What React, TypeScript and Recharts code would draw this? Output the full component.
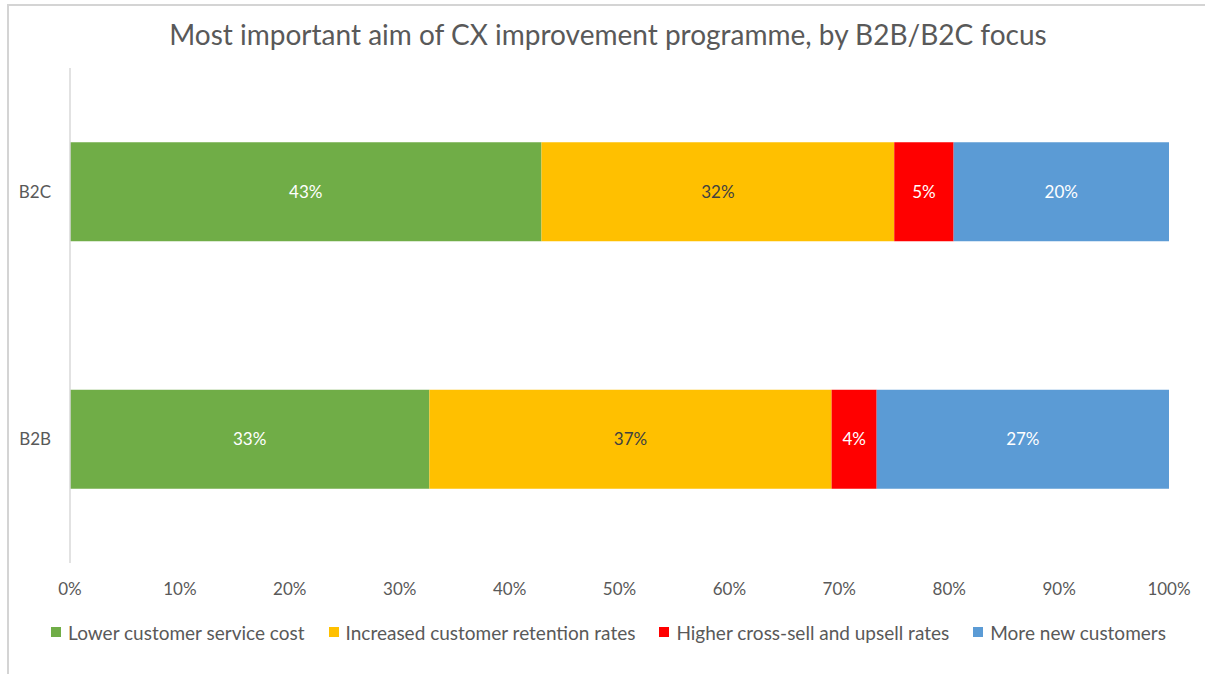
import React from "react";
import { BarChart, Bar, XAxis, YAxis, Legend, LabelList } from "recharts";

const categories = ["B2C", "B2B"];
const lowerCost = [42.9, 32.7];
const retention = [32.1, 36.6];
const crossSell = [5.4, 4.1];
const newCustomers = [19.6, 26.6];
const xTicks = [0, 10, 20, 30, 40, 50, 60, 70, 80, 90, 100];

const seriesNames = [
  "Lower customer service cost",
  "Increased customer retention rates",
  "Higher cross-sell and upsell rates",
  "More new customers",
];
const seriesKeys = ["lower", "retention", "cross", "newc"];
const seriesColors = ["#70AD47", "#FFC000", "#FF0000", "#5B9BD5"];
const labelColors = ["#FFFFFF", "#404040", "#FFFFFF", "#FFFFFF"];

const data = categories.map((c, i) => ({
  name: c,
  lower: lowerCost[i],
  retention: retention[i],
  cross: crossSell[i],
  newc: newCustomers[i],
}));

const FONT = "Lato, 'Open Sans', sans-serif";
const TEXT = "#595959";

const LegendContent = () => (
  <div
    style={{
      display: "flex",
      justifyContent: "center",
      alignItems: "center",
      height: 22,
      paddingLeft: 12,
      boxSizing: "border-box",
      fontFamily: FONT,
      fontSize: 19,
      color: TEXT,
    }}
  >
    {seriesNames.map((n, i) => (
      <div key={n} style={{ display: "flex", alignItems: "center", marginRight: i < 3 ? 24 : 0 }}>
        <span
          style={{
            display: "inline-block",
            width: 10,
            height: 10,
            background: seriesColors[i],
            marginRight: 7,
          }}
        />
        <span>{n}</span>
      </div>
    ))}
  </div>
);

export default function App() {
  return (
    <div style={{ position: "fixed", left: 0, top: 0, width: 1205, height: 674, overflow: "hidden", background: "#fff" }}>
      <div
        style={{
          position: "absolute",
          left: 0,
          top: 17,
          width: 1216,
          textAlign: "center",
          fontFamily: FONT,
          fontSize: 28,
          color: TEXT,
        }}
      >
        Most important aim of CX improvement programme, by B2B/B2C focus
      </div>
      <div style={{ position: "absolute", left: 0, top: 0 }}>
        <BarChart
          width={1205}
          height={674}
          data={data}
          layout="vertical"
          margin={{ top: 68, right: 36, bottom: 59, left: 8 }}
          barCategoryGap="30%"
        >
          <XAxis
            type="number"
            domain={[0, 100]}
            ticks={xTicks}
            height={30}
            allowDataOverflow
            axisLine={false}
            tickLine={false}
            tickSize={0}
            tickMargin={20}
            tickFormatter={(v: number) => `${v}%`}
            tick={{ fill: TEXT, fontSize: 17, fontFamily: FONT }}
          />
          <YAxis
            type="category"
            dataKey="name"
            width={62}
            axisLine={{ stroke: "#D9D9D9", strokeWidth: 1.5 }}
            tickLine={false}
            tickSize={0}
            tickMargin={19}
            tick={{ fill: TEXT, fontSize: 17, fontFamily: FONT }}
          />
          <Legend
            verticalAlign="bottom"
            height={22}
            content={<LegendContent />}
            wrapperStyle={{ position: "absolute", top: 621, left: 0, width: 1205, height: 22, bottom: "auto" }}
          />
          {seriesKeys.map((k, i) => (
            <Bar
              key={k}
              dataKey={k}
              name={seriesNames[i]}
              stackId="a"
              fill={seriesColors[i]}
              isAnimationActive={false}
            >
              <LabelList
                dataKey={k}
                position="center"
                formatter={(v: number) => `${Math.round(v)}%`}
                style={{ fill: labelColors[i], fontSize: 17, fontFamily: FONT }}
              />
            </Bar>
          ))}
        </BarChart>
      </div>
      <div
        style={{
          position: "absolute",
          left: 7,
          top: 4,
          width: 1220,
          height: 690,
          borderTop: "2px solid #D4D4D4",
          borderLeft: "2px solid #D4D4D4",
          boxSizing: "border-box",
          pointerEvents: "none",
          zIndex: 5,
        }}
      />
    </div>
  );
}
